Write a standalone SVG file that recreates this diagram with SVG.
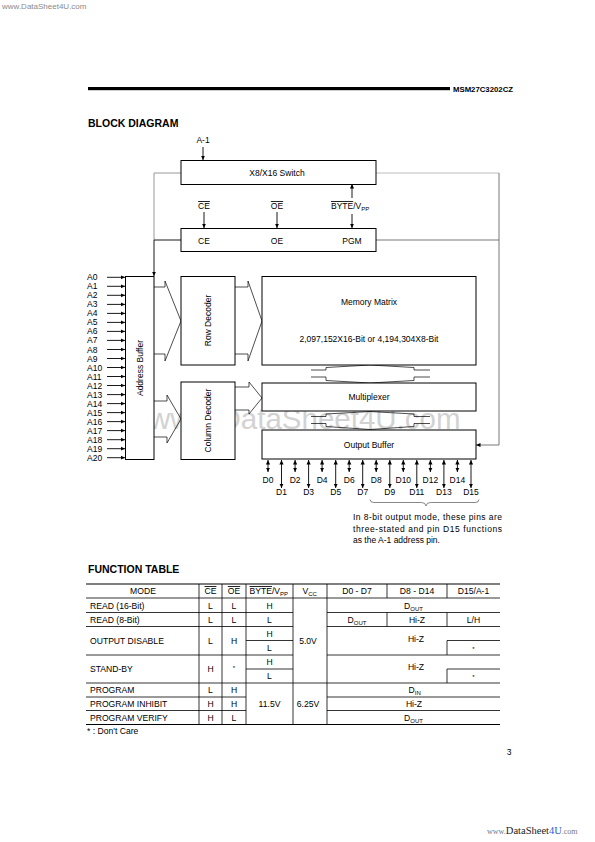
<svg xmlns="http://www.w3.org/2000/svg" width="595" height="842" viewBox="0 0 595 842">
<style>
text{font-family:"Liberation Sans",Arial,Helvetica,sans-serif;fill:#000}
.l{font-size:8.5px}
.m{font-size:8.5px;text-anchor:middle}
.tb{font-size:8.6px;text-anchor:middle}
.tl{font-size:8.6px}
.box{fill:#fff;stroke:#000;stroke-width:1}
.ln{stroke:#000;stroke-width:0.9;fill:none}
.tln{stroke:#000;stroke-width:0.8;fill:none}
.ov{text-decoration:overline}
.sub{font-size:6px}
</style>
<defs>
<marker id="ah" markerWidth="6" markerHeight="6" refX="4.5" refY="3" orient="auto-start-reverse" markerUnits="userSpaceOnUse">
<path d="M0,0.9 L4.5,3 L0,5.1z" fill="#000"/>
</marker>
</defs>
<rect width="595" height="842" fill="#fff"/>
<text x="2" y="9" style="font-size:8px;fill:#8a8a8a">www.DataSheet4U.com</text>
<rect x="88" y="87" width="362" height="3.2" fill="#000"/>
<text x="453" y="92" style="font-size:8px;font-weight:bold" textLength="60" lengthAdjust="spacingAndGlyphs">MSM27C3202CZ</text>
<text x="88" y="127" style="font-size:10.5px;font-weight:bold">BLOCK DIAGRAM</text>

<!-- watermark -->
<text x="149" y="429" style="font-size:29.5px;fill:#d2d2d2">www.DataSheet4U.com</text>

<g id="connectors">
<line class="ln" x1="203" y1="147" x2="203" y2="160" marker-end="url(#ah)"/>
<line class="ln" x1="204" y1="212" x2="204" y2="228" marker-end="url(#ah)"/>
<line class="ln" x1="277" y1="212" x2="277" y2="228" marker-end="url(#ah)"/>
<line class="ln" x1="352" y1="198" x2="352" y2="184" marker-end="url(#ah)"/>
<line class="ln" x1="352" y1="214" x2="352" y2="228" marker-end="url(#ah)"/>
<path d="M181,173 H154 V240" fill="none" stroke="#8c8c8c" stroke-width="0.9"/>
<path d="M181,240 H154 V276" class="ln" marker-end="url(#ah)"/>
<path d="M376,173 H499" fill="none" stroke="#bdbdbd" stroke-width="1"/>
<path d="M376,240 H499" fill="none" stroke="#6a6a6a" stroke-width="0.9"/>
<path d="M499,173 V445 H476" fill="none" stroke="#6a6a6a" stroke-width="0.9" marker-end="url(#ah)"/>
<!-- address inputs -->
<g class="ln">
<line x1="107" y1="277.3" x2="125" y2="277.3" marker-end="url(#ah)"/>
<line x1="107" y1="286.3" x2="125" y2="286.3" marker-end="url(#ah)"/>
<line x1="107" y1="295.3" x2="125" y2="295.3" marker-end="url(#ah)"/>
<line x1="107" y1="304.4" x2="125" y2="304.4" marker-end="url(#ah)"/>
<line x1="107" y1="313.4" x2="125" y2="313.4" marker-end="url(#ah)"/>
<line x1="107" y1="322.4" x2="125" y2="322.4" marker-end="url(#ah)"/>
<line x1="107" y1="331.4" x2="125" y2="331.4" marker-end="url(#ah)"/>
<line x1="107" y1="340.4" x2="125" y2="340.4" marker-end="url(#ah)"/>
<line x1="107" y1="349.5" x2="125" y2="349.5" marker-end="url(#ah)"/>
<line x1="107" y1="358.5" x2="125" y2="358.5" marker-end="url(#ah)"/>
<line x1="107" y1="367.5" x2="125" y2="367.5" marker-end="url(#ah)"/>
<line x1="107" y1="376.5" x2="125" y2="376.5" marker-end="url(#ah)"/>
<line x1="107" y1="385.5" x2="125" y2="385.5" marker-end="url(#ah)"/>
<line x1="107" y1="394.6" x2="125" y2="394.6" marker-end="url(#ah)"/>
<line x1="107" y1="403.6" x2="125" y2="403.6" marker-end="url(#ah)"/>
<line x1="107" y1="412.6" x2="125" y2="412.6" marker-end="url(#ah)"/>
<line x1="107" y1="421.6" x2="125" y2="421.6" marker-end="url(#ah)"/>
<line x1="107" y1="430.6" x2="125" y2="430.6" marker-end="url(#ah)"/>
<line x1="107" y1="439.7" x2="125" y2="439.7" marker-end="url(#ah)"/>
<line x1="107" y1="448.7" x2="125" y2="448.7" marker-end="url(#ah)"/>
<line x1="107" y1="457.7" x2="125" y2="457.7" marker-end="url(#ah)"/>
</g>
<!-- wide bus arrows -->
<g fill="none" stroke="#000" stroke-width="0.7">
<path d="M154,287 H165 V281 L181,321 L165,361 V354 H154"/>
<path d="M235,287 H248 V281 L262,321 L248,361 V354 H235"/>
<path d="M154,401 H167 V395 L181,419 L167,443 V437 H154"/>
<path d="M235,387 H249 V382 L262,398 L249,414 V410 H235"/>
<path d="M311,370 H326 V367.5 L370,365 L414,367.5 V370 H430 M311,377 H326 V380.5 L370,383 L414,380.5 V377 H430"/>
<path d="M311,416.5 H326 V414 L370,411.5 L414,414 V416.5 H430 M311,423.5 H326 V426.5 L370,429.5 L414,426.5 V423.5 H430"/>
</g>
<!-- data pins -->
<g class="ln">
<line x1="268" y1="460" x2="268" y2="472" marker-start="url(#ah)" marker-end="url(#ah)"/>
<line x1="281.5" y1="460" x2="281.5" y2="488" marker-start="url(#ah)" marker-end="url(#ah)"/>
<line x1="295.1" y1="460" x2="295.1" y2="472" marker-start="url(#ah)" marker-end="url(#ah)"/>
<line x1="308.6" y1="460" x2="308.6" y2="488" marker-start="url(#ah)" marker-end="url(#ah)"/>
<line x1="322.1" y1="460" x2="322.1" y2="472" marker-start="url(#ah)" marker-end="url(#ah)"/>
<line x1="335.7" y1="460" x2="335.7" y2="488" marker-start="url(#ah)" marker-end="url(#ah)"/>
<line x1="349.2" y1="460" x2="349.2" y2="472" marker-start="url(#ah)" marker-end="url(#ah)"/>
<line x1="362.7" y1="460" x2="362.7" y2="488" marker-start="url(#ah)" marker-end="url(#ah)"/>
<line x1="376.2" y1="460" x2="376.2" y2="472" marker-start="url(#ah)" marker-end="url(#ah)"/>
<line x1="389.8" y1="460" x2="389.8" y2="488" marker-start="url(#ah)" marker-end="url(#ah)"/>
<line x1="403.3" y1="460" x2="403.3" y2="472" marker-start="url(#ah)" marker-end="url(#ah)"/>
<line x1="416.8" y1="460" x2="416.8" y2="488" marker-start="url(#ah)" marker-end="url(#ah)"/>
<line x1="430.4" y1="460" x2="430.4" y2="472" marker-start="url(#ah)" marker-end="url(#ah)"/>
<line x1="443.9" y1="460" x2="443.9" y2="488" marker-start="url(#ah)" marker-end="url(#ah)"/>
<line x1="457.4" y1="460" x2="457.4" y2="472" marker-start="url(#ah)" marker-end="url(#ah)"/>
<line x1="471" y1="460" x2="471" y2="488" marker-start="url(#ah)" marker-end="url(#ah)"/>
</g>
<path d="M370,499.5 q0,3 4,3 H421.5 q4,0 4.5,3.5 q0.5,-3.5 4.5,-3.5 H475 q4,0 4,-3" fill="none" stroke="#555" stroke-width="0.7"/>
</g>

<g id="a-1"><text class="m" x="203" y="143">A-1</text></g>
<g id="switch">
<rect class="box" x="181" y="160.5" width="195" height="24"/>
<text class="m" x="277" y="176">X8/X16 Switch</text>
</g>
<g id="pins-ctrl">
<text class="m ov" x="204" y="209">CE</text>
<text class="m ov" x="277" y="209">OE</text>
<text class="l" x="331" y="209"><tspan class="ov">BYTE</tspan>/V<tspan class="sub" dy="2">PP</tspan></text>
</g>
<g id="control">
<rect class="box" x="181" y="228.5" width="195" height="23"/>
<text class="m" x="204" y="243.5">CE</text>
<text class="m" x="277" y="243.5">OE</text>
<text class="m" x="352" y="243.5">PGM</text>
</g>
<g id="addr-labels" class="l">
<text x="87" y="280.3">A0</text>
<text x="87" y="289.3">A1</text>
<text x="87" y="298.3">A2</text>
<text x="87" y="307.4">A3</text>
<text x="87" y="316.4">A4</text>
<text x="87" y="325.4">A5</text>
<text x="87" y="334.4">A6</text>
<text x="87" y="343.4">A7</text>
<text x="87" y="352.5">A8</text>
<text x="87" y="361.5">A9</text>
<text x="87" y="370.5">A10</text>
<text x="87" y="379.5">A11</text>
<text x="87" y="388.5">A12</text>
<text x="87" y="397.6">A13</text>
<text x="87" y="406.6">A14</text>
<text x="87" y="415.6">A15</text>
<text x="87" y="424.6">A16</text>
<text x="87" y="433.6">A17</text>
<text x="87" y="442.7">A18</text>
<text x="87" y="451.7">A19</text>
<text x="87" y="460.7">A20</text>
</g>
<g id="address-buffer">
<rect class="box" x="125.5" y="276.5" width="28.5" height="183"/>
<text class="m" transform="translate(142.5,368) rotate(-90)">Address Buffer</text>
</g>
<g id="row-decoder">
<rect class="box" x="181" y="276.5" width="54" height="88.5"/>
<text class="m" transform="translate(211,320.5) rotate(-90)">Row Decoder</text>
</g>
<g id="column-decoder">
<rect class="box" x="181" y="382" width="54" height="77.5"/>
<text class="m" transform="translate(211,420.5) rotate(-90)">Column Decoder</text>
</g>
<g id="memory-matrix">
<rect class="box" x="262" y="276.5" width="214" height="88.5"/>
<text class="m" x="369" y="304.5">Memory Matrix</text>
<text class="m" x="369" y="342">2,097,152X16-Bit or 4,194,304X8-Bit</text>
</g>
<g id="multiplexer">
<rect class="box" x="262" y="383" width="214" height="28"/>
<text class="m" x="369" y="400">Multiplexer</text>
</g>
<g id="output-buffer">
<rect class="box" x="262" y="430" width="214" height="29"/>
<text class="m" x="369" y="447.5">Output Buffer</text>
</g>
<g id="data-labels" class="m">
<text x="268" y="483">D0</text>
<text x="281.5" y="495">D1</text>
<text x="295.1" y="483">D2</text>
<text x="308.6" y="495">D3</text>
<text x="322.1" y="483">D4</text>
<text x="335.7" y="495">D5</text>
<text x="349.2" y="483">D6</text>
<text x="362.7" y="495">D7</text>
<text x="376.2" y="483">D8</text>
<text x="389.8" y="495">D9</text>
<text x="403.3" y="483">D10</text>
<text x="416.8" y="495">D11</text>
<text x="430.4" y="483">D12</text>
<text x="443.9" y="495">D13</text>
<text x="457.4" y="483">D14</text>
<text x="471" y="495">D15</text>
</g>
<g id="note" class="l">
<text x="353" y="520" textLength="149" lengthAdjust="spacing">In 8-bit output mode, these pins are</text>
<text x="353" y="531.5" textLength="149" lengthAdjust="spacing">three-stated and pin D15 functions</text>
<text x="353" y="543">as the A-1 address pin.</text>
</g>

<text x="88" y="573" style="font-size:10.5px;font-weight:bold">FUNCTION TABLE</text>
<g id="function-table">
<g class="tln">
<line x1="86" y1="584" x2="500" y2="584" stroke-width="1.2"/>
<line x1="86" y1="598" x2="500" y2="598"/>
<path d="M86,612.5 H293 M327,612.5 H500"/>
<path d="M86,626.5 H293 M327,626.5 H500"/>
<path d="M246,640.5 H293 M447,640.5 H500"/>
<path d="M86,655 H293 M327,655 H500"/>
<path d="M246,669 H293 M447,669 H500"/>
<line x1="86" y1="683" x2="500" y2="683"/>
<path d="M86,697 H246 M327,697 H500"/>
<path d="M86,710.5 H246 M327,710.5 H500"/>
<line x1="86" y1="724.5" x2="500" y2="724.5" stroke-width="1.2"/>
<path d="M199,584 V724.5 M222,584 V724.5 M246,584 V724.5 M293,584 V724.5 M327,584 V724.5"/>
<path d="M387,584 V598 M387,612.5 V626.5 M447,584 V598 M447,612.5 V626.5 M447,640.5 V655 M447,669 V683"/>
</g>
<text class="tb" x="143" y="594">MODE</text>
<text class="tb ov" x="210.5" y="594">CE</text>
<text class="tb ov" x="234" y="594">OE</text>
<text class="tl" x="249.5" y="594"><tspan class="ov">BYTE</tspan>/V<tspan class="sub" dy="2">PP</tspan></text>
<text class="tl" x="302.5" y="594">V<tspan class="sub" dy="2">CC</tspan></text>
<text class="tb" x="357" y="594">D0 - D7</text>
<text class="tb" x="417" y="594">D8 - D14</text>
<text class="tb" x="473.5" y="594">D15/A-1</text>

<text class="tl" x="90" y="608.5">READ (16-Bit)</text>
<text class="tb" x="210.5" y="608.5">L</text>
<text class="tb" x="234" y="608.5">L</text>
<text class="tb" x="269.5" y="608.5">H</text>
<text class="tl" x="404" y="608.5">D<tspan class="sub" dy="2">OUT</tspan></text>

<text class="tl" x="90" y="622.5">READ (8-Bit)</text>
<text class="tb" x="210.5" y="622.5">L</text>
<text class="tb" x="234" y="622.5">L</text>
<text class="tb" x="269.5" y="622.5">L</text>
<text class="tl" x="347.5" y="622.5">D<tspan class="sub" dy="2">OUT</tspan></text>
<text class="tb" x="417" y="622.5">Hi-Z</text>
<text class="tb" x="473.5" y="622.5">L/H</text>

<text class="tl" x="90" y="644">OUTPUT DISABLE</text>
<text class="tb" x="210.5" y="644">L</text>
<text class="tb" x="234" y="644">H</text>
<text class="tb" x="269.5" y="636.5">H</text>
<text class="tb" x="269.5" y="651">L</text>
<text class="tb" x="308" y="644">5.0V</text>
<text class="tb" x="416" y="642">Hi-Z</text>
<text class="tb" x="473.5" y="651" style="font-size:6px">*</text>

<text class="tl" x="90" y="672">STAND-BY</text>
<text class="tb" x="210.5" y="672">H</text>
<text class="tb" x="234" y="670" style="font-size:6px">*</text>
<text class="tb" x="269.5" y="665">H</text>
<text class="tb" x="269.5" y="679">L</text>
<text class="tb" x="416" y="670">Hi-Z</text>
<text class="tb" x="473.5" y="679" style="font-size:6px">*</text>

<text class="tl" x="90" y="693">PROGRAM</text>
<text class="tb" x="210.5" y="693">L</text>
<text class="tb" x="234" y="693">H</text>
<text class="tl" x="408.5" y="693">D<tspan class="sub" dy="2">IN</tspan></text>

<text class="tl" x="90" y="707">PROGRAM INHIBIT</text>
<text class="tb" x="210.5" y="707">H</text>
<text class="tb" x="234" y="707">H</text>
<text class="tb" x="269.5" y="707">11.5V</text>
<text class="tb" x="308" y="707">6.25V</text>
<text class="tb" x="414" y="707">Hi-Z</text>

<text class="tl" x="90" y="720.5">PROGRAM VERIFY</text>
<text class="tb" x="210.5" y="720.5">H</text>
<text class="tb" x="234" y="720.5">L</text>
<text class="tl" x="404" y="720.5">D<tspan class="sub" dy="2">OUT</tspan></text>
</g>
<text class="tl" x="87" y="734">* :  Don't Care</text>
<text x="509" y="755" style="font-size:8.5px;text-anchor:middle">3</text>
<text x="487" y="834" style="font-family:'Liberation Serif',serif"><tspan style="font-size:8px;fill:#777">www.</tspan><tspan style="font-size:10.5px;fill:#222">DataSheet</tspan><tspan style="font-size:10.5px;fill:#2a5bd7">4U</tspan><tspan style="font-size:8px;fill:#777">.com</tspan></text>
</svg>
